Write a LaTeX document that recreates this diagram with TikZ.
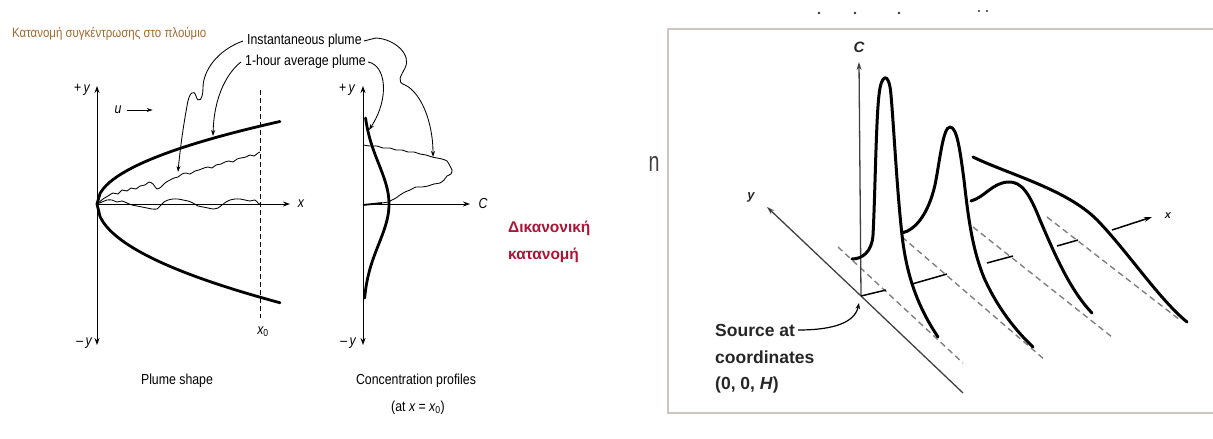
\documentclass[tikz,border=0pt]{standalone}
\usepackage{fontspec}
\setmainfont{Liberation Sans}
\newfontfamily\narrowf[FakeStretch=0.85]{Liberation Sans}
\usetikzlibrary{arrows.meta}
\definecolor{titlebrown}{RGB}{160,105,45}
\definecolor{crim}{RGB}{175,20,55}
\definecolor{boxgray}{RGB}{205,200,190}
\begin{document}
\begin{tikzpicture}[x=1pt,y=-1pt,
  thinln/.style={line width=0.85pt},
  axisln/.style={line width=0.9pt,-{Stealth[length=7pt,width=5pt]}},
  plumeln/.style={line width=2.8pt,line cap=round,line join=round},
  lbl/.style={font=\narrowf\fontsize{14.5}{16}\selectfont,inner sep=0pt},
  lead/.style={line width=0.85pt,-{Stealth[length=6pt,width=4pt]}},
  prof/.style={line width=3pt,line cap=round,line join=round},
  dsh/.style={line width=1.4pt,dash pattern=on 6pt off 4pt,draw=black!50},
  ax3/.style={line width=1.3pt,draw=black!75,-{Stealth[length=8pt,width=5pt]}},
  lab3/.style={font=\bfseries\fontsize{17.5}{20}\selectfont,text=black!85,inner sep=0pt,anchor=west},
  dot/.style={fill=black!80,draw=none}]
\useasboundingbox (0,0) rectangle (1213,439);

% ---------------- left panel ----------------
\node[lbl,anchor=west,text=titlebrown,font=\narrowf\fontsize{13.5}{15}\selectfont] (title) at (12,34) {Κατανομή συγκέντρωσης στο πλούμιο};
\node[lbl,anchor=west] (inst) at (247,41) {Instantaneous plume};
\node[lbl,anchor=west] (avg) at (245,62) {1-hour average plume};

% plume shape axes
\coordinate (O1) at (97,204);
\coordinate (O1t) at (97,86);
\coordinate (O1b) at (97,345);
\coordinate (O1x) at (290,204);
\draw[axisln] (O1) -- (O1t);
\draw[axisln] (O1) -- (O1b);
\draw[axisln] (O1) -- (O1x);
\node[lbl] (py1) at (82,90) {+\,\itshape y};
\node[lbl] (my1) at (84,343) {\textendash\,\itshape y};
\node[lbl] (xl) at (301,204) {\itshape x};
\node[lbl] (u) at (118,110) {\itshape u};
\draw[thinln,-{Stealth[length=6pt,width=4pt]}] ([xshift=5pt]u.east) -- ++(26,0);

% dashed x0 line
\coordinate (x0t) at (260,90);
\coordinate (x0b) at (260,318);
\draw[thinln,dash pattern=on 5pt off 3pt] (x0t) -- (x0b);
\node[lbl] (x0) at (263,332) {\itshape x\textsubscript{\upshape 0}};

% average plume envelope
\draw[plumeln] plot[variable=\t,domain=0:183,samples=60] ({97+\t},{204-6.1*sqrt(\t)});
\draw[plumeln] plot[variable=\t,domain=0:183,samples=60] ({97+\t},{204+7.3*sqrt(\t)});

% instantaneous plume (wiggly)
\draw[thinln,line join=round] plot[smooth,tension=0.4] coordinates {(97,204) (103,199) (108,196) (113,193) (118,194) (122,190) (127,191) (131,188) (136,189) (140,186) (145,185) (149,182) (153,184) (157,189) (161,187) (165,183) (170,180) (174,178) (178,177) (182,174) (186,173) (190,174) (195,171) (199,170) (204,168) (208,167) (212,168) (216,165) (221,164) (225,162) (229,161) (233,162) (237,159) (241,158) (246,157) (250,155) (254,156) (258,153) (260,152)};
\draw[thinln,line join=round] plot[smooth,tension=0.4] coordinates {(97,204) (102,202) (107,200) (112,200) (117,202) (122,201) (127,203) (132,205) (137,206) (142,207) (147,208) (152,209) (157,209) (160,206) (164,202) (168,200) (173,199) (178,199) (183,200) (188,201) (193,203) (198,206) (203,207) (208,208) (213,209) (218,208) (222,205) (226,202) (230,200) (235,199) (240,199) (245,200) (250,201) (255,200) (258,203) (261,205)};

% concentration profile axes
\coordinate (O2) at (363,204);
\coordinate (O2t) at (363,86);
\coordinate (O2b) at (363,345);
\coordinate (O2x) at (470,204);
\draw[axisln] (O2) -- (O2t);
\draw[axisln] (O2) -- (O2b);
\draw[axisln] (O2) -- (O2x);
\node[lbl] (py2) at (347,90) {+\,\itshape y};
\node[lbl] (my2) at (348,343) {\textendash\,\itshape y};
\node[lbl] (cl) at (483,204) {\itshape C};

% gaussian (average) profile
\draw[plumeln] plot[variable=\t,domain=118:298,samples=70] ({363+26*exp(-((\t-204)/40)^2/2)},{\t});
% instantaneous profile
\draw[thinln,line join=round] plot[smooth,tension=0.4] coordinates {(363,145) (370,146) (377,146) (383,148) (390,148) (396,150) (402,150) (408,152) (414,152) (420,154) (426,155) (432,157) (437,158) (442,159) (447,161) (450,166) (452,170) (451,174) (447,176) (444,180) (440,183) (434,184) (428,186) (422,187) (416,187) (410,190) (405,192) (400,195) (396,198) (392,200) (388,202) (382,203)};
\draw[line width=1.8pt] (382,203) -- (363,205);

% leader arrows
\coordinate (tA1) at (178,172);
\coordinate (tA2) at (213,136);
\coordinate (tA3) at (433,157);
\coordinate (tA4) at (369,130);
\draw[lead] ([xshift=-4pt]inst.west) .. controls (218,50) and (203,70) .. (203,88) .. controls (203,100) and (198,104) .. (196,96) .. controls (194,89) and (189,92) .. (187,106) .. controls (183,128) and (180,150) .. (tA1);
\draw[lead] ([xshift=-4pt]avg.west) .. controls (228,72) and (214,95) .. (tA2);
\draw[lead] ([xshift=2pt]inst.east) -- (376,38) .. controls (395,39) and (412,55) .. (405,68) .. controls (401,76) and (396,82) .. (405,85) .. controls (420,92) and (433,120) .. (tA3);
\draw[lead] ([xshift=2pt]avg.east) .. controls (386,65) and (390,98) .. (tA4);

\node[lbl] (ps) at (177,381) {Plume shape};
\node[lbl] (cp) at (416,381) {Concentration profiles};
\node[lbl] (atx) at (418,408) {(at \itshape x\upshape{} = \itshape x\textsubscript{\upshape 0}\upshape )};

\node[anchor=west,text=crim,font=\bfseries\fontsize{15.5}{18}\selectfont,inner sep=0pt] (dk1) at (508,228) {Δικανονική};
\node[anchor=west,text=crim,font=\bfseries\fontsize{15.5}{18}\selectfont,inner sep=0pt] (dk2) at (508,255) {κατανομή};

% ---------------- right panel ----------------
\node[inner sep=0pt,text=black!75,font=\fontsize{28}{28}\selectfont] (nn) at (654,164) {\scalebox{0.7}[1]{n}};
\fill[dot] (819,13) circle (1.3) (855,13) circle (1.3) (899,13) circle (1.3) (979,11) circle (1.2) (987,11) circle (1.2);
\draw[line width=2pt,draw=boxgray] (1220,29) -- (668,29) -- (668,413) -- (1220,413);

% dashed base lines
\draw[dsh] (838,247) -- (963,363);
\draw[dsh] (902,237) -- (1045,360);
\draw[dsh] (973,227) -- (1112,337);
\draw[dsh] (1047,217) -- (1180,320);

% axes
\coordinate (S) at (861,296);
\coordinate (Ctop) at (859,62);
\coordinate (Yend) at (963,393);
\coordinate (Ytip) at (767,207);
\draw[ax3] (S) -- (Ctop);
\draw[ax3,-] (Yend) -- (S);
\draw[ax3] (S) -- (Ytip);
\node[font=\bfseries\itshape\fontsize{15}{15}\selectfont,text=black!85,inner sep=0pt] (Clab) at (859,47) {C};
\node[font=\bfseries\itshape\fontsize{13}{13}\selectfont,text=black!85,inner sep=0pt] (ylab) at (751,197) {y};

% x-axis pieces
\coordinate (xa1) at (886,290);
\coordinate (xa2s) at (912,284);
\coordinate (xa2) at (947,274);
\coordinate (xa3s) at (987,263);
\coordinate (xa3) at (1013,256);
\coordinate (xa4s) at (1057,246);
\coordinate (xa4) at (1078,240);
\coordinate (xa5s) at (1112,230);
\coordinate (xtip) at (1152,217);
\draw[line width=1.5pt] (S) -- (xa1);
\draw[line width=1.5pt] (xa2s) -- (xa2);
\draw[line width=1.5pt] (xa3s) -- (xa3);
\draw[line width=1.5pt] (xa4s) -- (xa4);
\draw[line width=1.5pt,-{Stealth[length=8pt,width=5pt]}] (xa5s) -- (xtip);
\node[font=\bfseries\itshape\fontsize{11}{11}\selectfont,text=black!85,inner sep=0pt] (xlab) at (1168,216) {x};

% concentration profiles
\draw[prof] (852,259) .. controls (862,259) and (872,252) .. (873,235)
  .. controls (875,200) and (876,120) .. (879,95)
  .. controls (881,74) and (889,70) .. (891,95)
  .. controls (894,130) and (897,190) .. (902,235)
  .. controls (907,280) and (920,310) .. (938,337);
\draw[prof] (902,233) .. controls (915,230) and (928,215) .. (935,185)
  .. controls (940,160) and (943,127) .. (950,127)
  .. controls (957,127) and (960,150) .. (964,180)
  .. controls (968,215) and (972,250) .. (985,280)
  .. controls (998,308) and (1015,330) .. (1033,347);
\draw[prof] (971,201) .. controls (985,197) and (992,183) .. (1008,182)
  .. controls (1022,181) and (1030,195) .. (1040,220)
  .. controls (1055,255) and (1070,290) .. (1092,313);
\draw[prof] (973,157) .. controls (1010,175) and (1070,190) .. (1100,223)
  .. controls (1130,255) and (1160,300) .. (1187,322);

% source label
\node[lab3] (src1) at (715,330) {Source at};
\node[lab3] (src2) at (715,357) {coordinates};
\node[lab3] (src3) at (715,385) {(0, 0, \textit{H})};
\coordinate (Sarr) at (859,303);
\draw[line width=1.2pt,-{Stealth[length=6pt,width=4.5pt]}] ([xshift=3pt]src1.east) .. controls (835,330) and (855,322) .. (Sarr);
\end{tikzpicture}
\end{document}
